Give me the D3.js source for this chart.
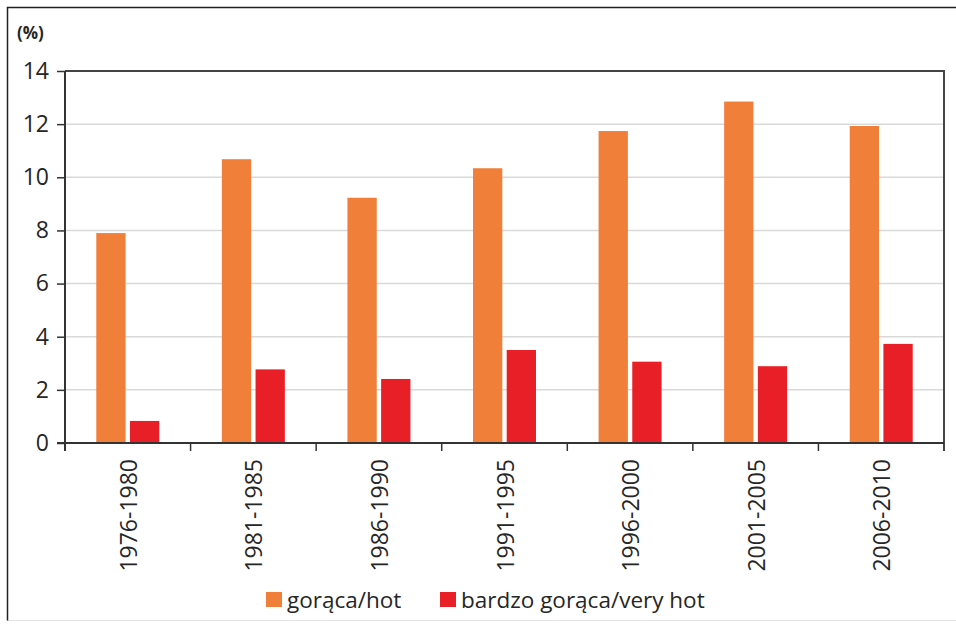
<!DOCTYPE html>
<html>
<head>
<meta charset="utf-8">
<script src="https://cdn.jsdelivr.net/npm/d3@7"></script>
<style>
  body { margin: 0; background: #fff; }
  svg { display: block; font-family: "Open Sans", "Noto Sans", sans-serif; }
</style>
</head>
<body>
<svg id="chart" width="956" height="625"></svg>
<script>
// data
var periods = ["1976-1980", "1981-1985", "1986-1990", "1991-1995", "1996-2000", "2001-2005", "2006-2010"];
var hot = [7.9, 10.68, 9.23, 10.34, 11.74, 12.85, 11.93];
var veryHot = [0.83, 2.77, 2.41, 3.50, 3.06, 2.89, 3.73];
var yTicks = [0, 2, 4, 6, 8, 10, 12, 14];
var seriesNames = ["gorąca/hot", "bardzo gorąca/very hot"];
var seriesColors = ["#f07f3a", "#e91f27"];

var svg = d3.select("#chart");
var margin = {top: 71, right: 12, bottom: 182, left: 65},
    width = +svg.attr("width") - margin.left - margin.right,
    height = +svg.attr("height") - margin.top - margin.bottom;

// outer frame
svg.append("rect")
    .attr("x", 7.5).attr("y", 7.5)
    .attr("width", 956).attr("height", 613)
    .attr("fill", "none").attr("stroke", "#e4e4e4");
svg.append("path")
    .attr("d", "M7.5,620.5V7.5H956")
    .attr("fill", "none").attr("stroke", "#222").attr("stroke-width", 1.5);

var x = d3.scaleBand().domain(periods).range([0, width]);
var x1 = d3.scaleBand().domain([0, 1]).range([0, 63]).paddingInner(0.13);
var y = d3.scaleLinear().domain([0, 14]).range([height, 0]);

var g = svg.append("g")
    .attr("transform", "translate(" + margin.left + "," + margin.top + ")");

// gridlines
g.selectAll(".grid")
    .data(yTicks.filter(function(d) { return d > 0 && d < 14; }))
    .enter().append("line")
    .attr("class", "grid")
    .attr("x1", 0).attr("x2", width)
    .attr("y1", function(d) { return y(d); })
    .attr("y2", function(d) { return y(d); })
    .attr("stroke", "#d9d9d9").attr("stroke-width", 1.5);

// bars
var groups = g.selectAll(".grp")
    .data(periods)
    .enter().append("g")
    .attr("class", "grp")
    .attr("transform", function(d) { return "translate(" + (x(d) + x.bandwidth() / 2 - 31.5) + ",0)"; });

groups.selectAll("rect")
    .data(function(d, i) { return [hot[i], veryHot[i]]; })
    .enter().append("rect")
    .attr("x", function(d, j) { return x1(j); })
    .attr("y", function(d) { return y(d); })
    .attr("width", x1.bandwidth())
    .attr("height", function(d) { return height - y(d); })
    .attr("fill", function(d, j) { return seriesColors[j]; });

// plot box (top and right)
g.append("path")
    .attr("d", "M0," + y(14) + "H" + width + "V" + (height + 8))
    .attr("fill", "none").attr("stroke", "#444").attr("stroke-width", 2);

// y axis
var yAxis = g.append("g")
    .call(d3.axisLeft(y).tickValues(yTicks).tickSize(8).tickPadding(8));
yAxis.select(".domain").attr("d", "M0,0V" + (height + 8)).attr("stroke", "#333").attr("stroke-width", 2);
yAxis.selectAll(".tick line").attr("stroke", "#333").attr("stroke-width", 1.5);
yAxis.selectAll(".tick text")
    .attr("font-size", 23).attr("fill", "#262626")
    .attr("font-family", "'Open Sans', sans-serif");

// x axis: ticks on band boundaries
var xAxis = g.append("g")
    .attr("transform", "translate(0," + height + ")");
xAxis.append("line")
    .attr("x1", -8).attr("x2", width)
    .attr("stroke", "#333").attr("stroke-width", 2);
xAxis.selectAll(".xtick")
    .data(periods.slice(1))
    .enter().append("line")
    .attr("class", "xtick")
    .attr("x1", function(d) { return x(d); })
    .attr("x2", function(d) { return x(d); })
    .attr("y1", 0).attr("y2", 8)
    .attr("stroke", "#333").attr("stroke-width", 1.5);
xAxis.selectAll(".xlab")
    .data(periods)
    .enter().append("text")
    .attr("class", "xlab")
    .attr("transform", function(d) {
        return "translate(" + (x(d) + x.bandwidth() / 2 + 9) + ",16) rotate(-90)";
    })
    .attr("text-anchor", "end")
    .attr("font-size", 23)
    .attr("fill", "#262626")
    .text(function(d) { return d; });

// unit label
svg.append("text")
    .attr("x", 17).attr("y", 39)
    .attr("font-size", 17).attr("font-weight", "bold")
    .attr("fill", "#262626")
    .text("(%)");

// legend
var legendX = [266, 440];
var legend = svg.selectAll(".leg")
    .data(seriesNames)
    .enter().append("g")
    .attr("class", "leg")
    .attr("transform", function(d, i) { return "translate(" + legendX[i] + ",592)"; });
legend.append("rect")
    .attr("width", 16).attr("height", 15)
    .attr("fill", function(d, i) { return seriesColors[i]; });
legend.append("text")
    .attr("x", 21).attr("y", 16)
    .attr("font-size", 22.5).attr("fill", "#262626")
    .text(function(d) { return d; });
</script>
</body>
</html>
